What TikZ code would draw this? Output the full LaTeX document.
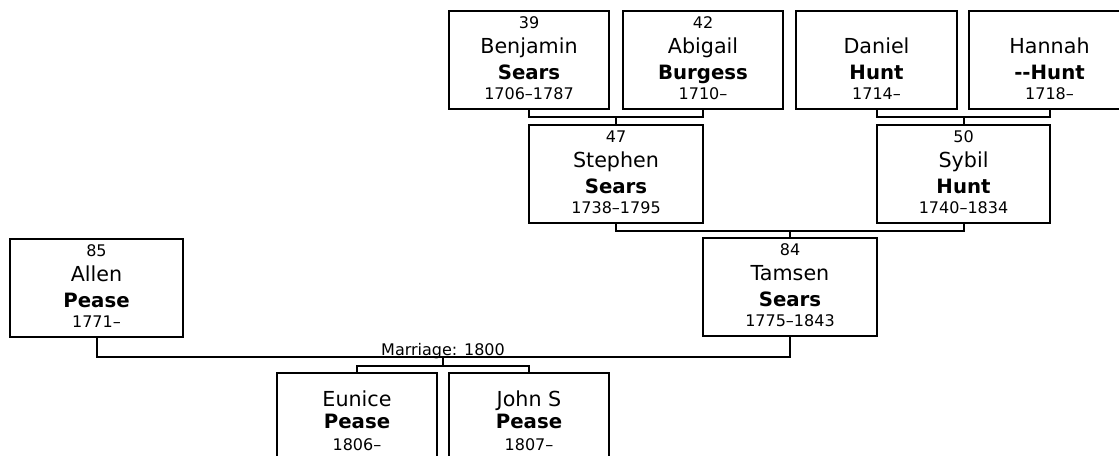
\documentclass[tikz,border=0pt]{standalone}
\usepackage{fontspec}
\setmainfont{DejaVu Sans}
\begin{document}
\begin{tikzpicture}[x=0.75pt,y=-0.75pt]
\tikzset{
  pbox/.style={draw, rectangle, line width=1.9pt, inner sep=0pt, outer sep=0pt, anchor=north west, minimum height=73.5pt},
  conn/.style={line width=1.5pt},
  smalltxt/.style={font=\fontsize{12}{14}\selectfont, anchor=base, inner sep=0pt},
  nametxt/.style={font=\fontsize{15.5}{18}\selectfont, anchor=base, inner sep=0pt},
  lasttxt/.style={font=\fontsize{14.8}{18}\selectfont\bfseries, anchor=base, inner sep=0pt},
}
% #1 name, #2 x, #3 y, #4 width, #5 number, #6 first, #7 last, #8 dates
\newcommand\personA[8]{%
  \node[pbox, minimum width=#4*0.75pt] (#1) at (#2,#3) {};
  \node[smalltxt] (#1n) at ({#2+#4/2},{#3+17}) {#5};
  \node[nametxt]  (#1f) at ({#2+#4/2},{#3+42}) {#6};
  \node[lasttxt]  (#1l) at ({#2+#4/2},{#3+68}) {#7};
  \node[smalltxt] (#1d) at ({#2+#4/2},{#3+88}) {#8};
}
\newcommand\personB[7]{%
  \node[pbox, minimum width=#4*0.75pt] (#1) at (#2,#3) {};
  \node[nametxt]  (#1f) at ({#2+#4/2},{#3+42}) {#5};
  \node[lasttxt]  (#1l) at ({#2+#4/2},{#3+68}) {#6};
  \node[smalltxt] (#1d) at ({#2+#4/2},{#3+88}) {#7};
}
\newcommand\personC[7]{%
  \node[pbox, minimum width=#4*0.75pt] (#1) at (#2,#3) {};
  \node[nametxt]  (#1f) at ({#2+#4/2},{#3+33}) {#5};
  \node[lasttxt]  (#1l) at ({#2+#4/2},{#3+55}) {#6};
  \node[smalltxt] (#1d) at ({#2+#4/2},{#3+77}) {#7};
}
\useasboundingbox (0,0) rectangle (1119,455);
\clip (0,0) rectangle (1119,455);

\personA{benj}{449}{11}{160}{39}{Benjamin}{Sears}{1706–1787}
\personA{abig}{623}{11}{160}{42}{Abigail}{Burgess}{1710–}
\personB{dani}{796}{11}{161}{Daniel}{Hunt}{1714–}
\personB{hann}{969}{11}{161}{Hannah}{\mbox{-}\mbox{-}Hunt}{1718–}
\personA{step}{529}{125}{174}{47}{Stephen}{Sears}{1738–1795}
\personA{sybi}{877}{125}{173}{50}{Sybil}{Hunt}{1740–1834}
\personA{tams}{703}{238}{174}{84}{Tamsen}{Sears}{1775–1843}
\personA{alle}{10}{239}{173}{85}{Allen}{Pease}{1771–}
\personC{euni}{277}{373}{160}{Eunice}{Pease}{1806–}
\personC{john}{449}{373}{160}{John S}{Pease}{1807–}

% connectors
\draw[conn] (benj.south) -- ++(0,8) -| (abig.south);
\coordinate (m1) at (616,117);
\draw[conn] (m1) -- (step.north);

\draw[conn] (dani.south) -- ++(0,8) -| (hann.south);
\coordinate (m2) at (963.5,117);
\draw[conn] (m2) -- (sybi.north);

\draw[conn] (step.south) -- ++(0,8) -| (sybi.south);
\coordinate (m3) at (790,230);
\draw[conn] (m3) -- (tams.north);

\draw[conn] (alle.south) -- ++(0,20) -| (tams.south);
\node[smalltxt] (mlabel) at (443,355) {Marriage: 1800};
\coordinate (m4) at (443,357);
\coordinate (m5) at (443,366);
\draw[conn] (m4) -- (m5);
\draw[conn] (euni.north) -- ++(0,-7) -| (john.north);
\end{tikzpicture}
\end{document}
